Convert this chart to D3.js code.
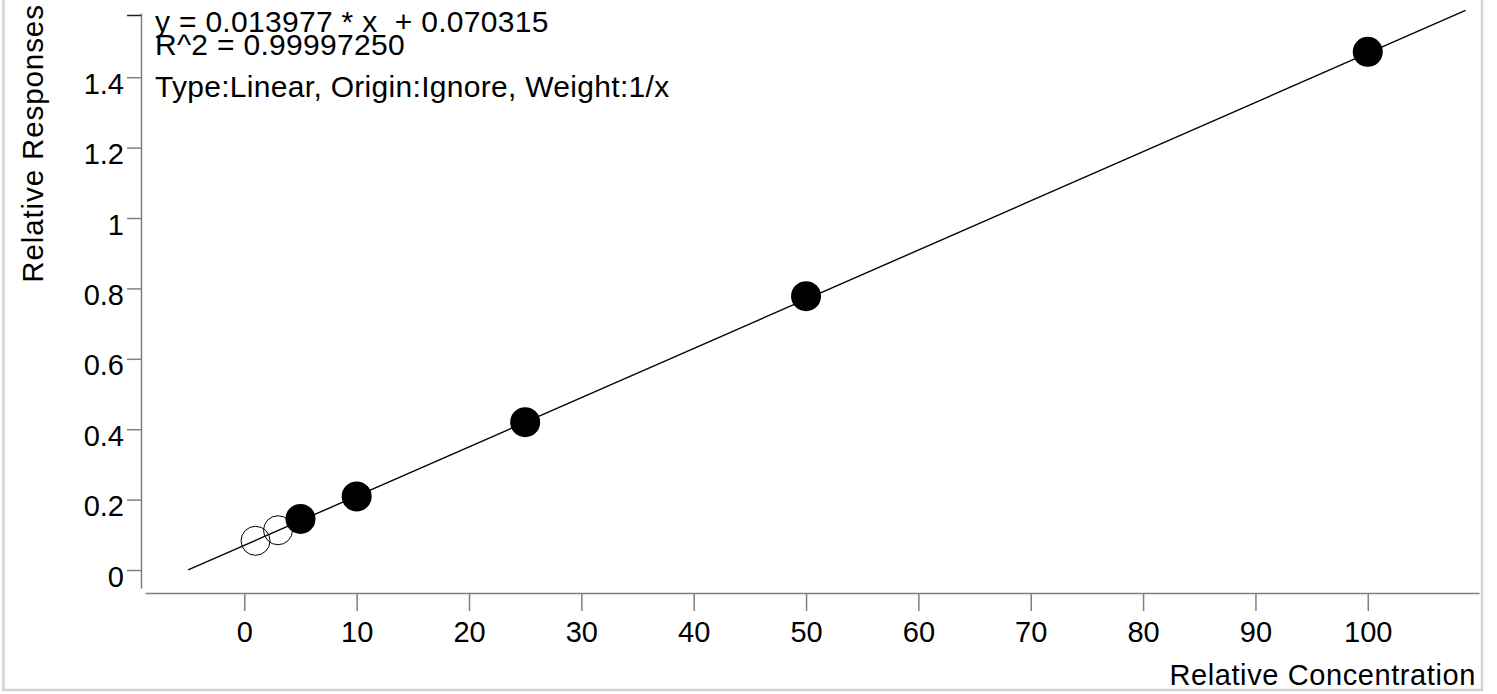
<!DOCTYPE html>
<html>
<head>
<meta charset="utf-8">
<script src="https://cdn.jsdelivr.net/npm/d3@7"></script>
<style>
  html, body { margin: 0; padding: 0; background: #fff; }
  svg { display: block; }
  text { font-family: "Liberation Sans", Arial, sans-serif; fill: #000; }
</style>
</head>
<body>
<svg id="chart" width="1497" height="694"></svg>
<script>
// ---- data ----
const concentrations = [1, 3, 5, 10, 25, 50, 100];
const responses      = [0.083, 0.113, 0.145, 0.209, 0.420, 0.778, 1.472];
const excluded       = [true, true, false, false, false, false, false];
const fitSlope = 0.013977;
const fitIntercept = 0.070315;
const fitRange = [-5, 108.7];
const xTickValues = [0, 10, 20, 30, 40, 50, 60, 70, 80, 90, 100];
const yTickValues = [0, 0.2, 0.4, 0.6, 0.8, 1, 1.2, 1.4];
const annotationLines = [
  "y = 0.013977 * x  + 0.070315",
  "R^2 = 0.99997250",
  "Type:Linear, Origin:Ignore, Weight:1/x"
];
const xTitle = "Relative Concentration";
const yTitle = "Relative Responses";

// ---- layout ----
const svg = d3.select("#chart");
const axisColor = "#808080";

const x = d3.scaleLinear().domain([-8.84, 109.9]).range([145, 1479]);
const y = d3.scaleLinear().domain([-0.0511, 1.5824]).range([588, 13]);

// frame
svg.append("rect")
  .attr("x", 3.5).attr("y", -5).attr("width", 1478.5).attr("height", 695)
  .attr("fill", "none").attr("stroke", "#d4d4d4").attr("stroke-width", 2.5);

// x axis
const gx = svg.append("g").attr("transform", `translate(0,${593})`);
gx.call(d3.axisBottom(x).tickValues(xTickValues).tickSize(18).tickSizeOuter(0)
  .tickFormat(d3.format("d")));
gx.select(".domain").attr("stroke", axisColor).attr("stroke-width", 1.5);
gx.selectAll(".tick line").attr("stroke", axisColor).attr("stroke-width", 1.5);
gx.selectAll(".tick text").attr("font-size", 29).attr("font-family", "Liberation Sans, Arial, sans-serif")
  .attr("dy", null).attr("y", 49);

// y axis
const gy = svg.append("g").attr("transform", `translate(${141},0)`);
gy.call(d3.axisLeft(y).tickValues(yTickValues).tickSize(14).tickSizeOuter(0)
  .tickFormat(d => String(+d.toFixed(1))));
gy.select(".domain").attr("stroke", axisColor).attr("stroke-width", 1.5);
gy.selectAll(".tick line").attr("stroke", axisColor).attr("stroke-width", 1.5);
gy.selectAll(".tick text").attr("font-size", 29).attr("font-family", "Liberation Sans, Arial, sans-serif")
  .attr("dy", null).attr("y", 16).attr("x", -17);
// top end tick
gy.append("line").attr("x1", -14).attr("x2", 0).attr("y1", y.range()[1] + 2.5).attr("y2", y.range()[1] + 2.5)
  .attr("stroke", "#222").attr("stroke-width", 1.5);

// regression line
svg.append("line")
  .attr("x1", x(fitRange[0])).attr("y1", y(fitSlope * fitRange[0] + fitIntercept))
  .attr("x2", x(fitRange[1])).attr("y2", y(fitSlope * fitRange[1] + fitIntercept))
  .attr("stroke", "#000").attr("stroke-width", 1.4);

// points
const pts = concentrations.map((c, i) => ({c, r: responses[i], ex: excluded[i]}));
svg.append("g").selectAll("circle").data(pts).join("circle")
  .attr("cx", d => x(d.c)).attr("cy", d => y(d.r))
  .attr("r", d => d.ex ? 14.5 : 15)
  .attr("fill", d => d.ex ? "none" : "#000")
  .attr("stroke", "#000").attr("stroke-width", d => d.ex ? 1 : 0);

// annotation
const ann = svg.append("text").attr("font-size", 30).attr("letter-spacing", 0.3)
  .attr("style", "white-space: pre");
const annY = [32, 55, 97];
annotationLines.forEach((t, i) => {
  ann.append("tspan").attr("x", 155).attr("y", annY[i]).text(t);
});

// axis titles
svg.append("text").attr("x", 1476).attr("y", 685).attr("text-anchor", "end")
  .attr("font-size", 29).attr("letter-spacing", 0.6).text(xTitle);
svg.append("text").attr("transform", `translate(43,143.5) rotate(-90)`).attr("text-anchor", "middle")
  .attr("font-size", 29.5).attr("letter-spacing", 0.9).text(yTitle);
</script>
</body>
</html>
